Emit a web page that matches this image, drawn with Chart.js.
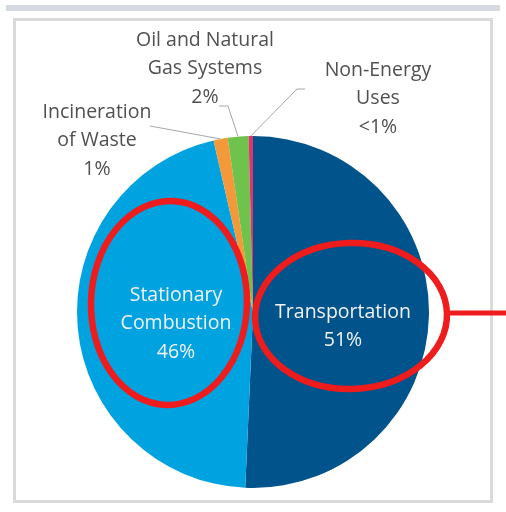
<!DOCTYPE html>
<html>
<head>
<meta charset="utf-8">
<script src="https://cdn.jsdelivr.net/npm/chart.js@4.4.1/dist/chart.umd.min.js"></script>
<style>
html, body { margin: 0; padding: 0; background: #fff; }
#wrap { position: relative; width: 506px; height: 512px; }
#topbar { position: absolute; left: 6px; top: 5px; width: 494px; height: 6px; background: #d6dbe1; }
#frame { position: absolute; left: 13px; top: 18px; width: 474px; height: 479px; border: 3px solid #dadada; }
canvas { position: absolute; left: 0; top: 0; }
</style>
</head>
<body>
<div id="wrap">
  <div id="topbar"></div>
  <div id="frame"></div>
  <canvas id="c" width="506" height="512"></canvas>
</div>
<script>
// slices, clockwise from 12 o'clock
var categories = ["Transportation", "Stationary Combustion", "Incineration of Waste", "Oil and Natural Gas Systems", "Non-Energy Uses"];
var shares = [50.7, 45.7, 1.3, 1.9, 0.4];
var shareLabels = ["51%", "46%", "1%", "2%", "<1%"];
var labelLines = [
    ["Transportation"],
    ["Stationary", "Combustion"],
    ["Incineration", "of Waste"],
    ["Oil and Natural", "Gas Systems"],
    ["Non-Energy", "Uses"]
];
var colors = ["#00538b", "#00a3df", "#f3993a", "#6fc24b", "#e0336f"];

var FONT = "19.5px 'Open Sans'";

// text placement (center x, first line y) and leader line start points
var textPos = [
    { x: 343, y: 312, color: "#f2f2f2" },
    { x: 176, y: 295, color: "#f2f2f2" },
    { x: 97, y: 112, color: "#505050", lead: [[150, 126]] },
    { x: 205, y: 40, color: "#505050", lead: [[219, 106], [228, 106]] },
    { x: 378, y: 70, color: "#505050", lead: [[305, 89], [297, 89]] }
];

var labelPlugin = {
    id: "sliceLabels",
    afterDatasetsDraw: function (chart) {
        var ctx = chart.ctx;
        var arcs = chart.getDatasetMeta(0).data;
        ctx.save();
        ctx.font = FONT;
        ctx.textAlign = "center";
        ctx.textBaseline = "middle";
        categories.forEach(function (c, i) {
            var p = textPos[i];
            var lines = labelLines[i].concat([shareLabels[i]]);
            ctx.fillStyle = p.color;
            lines.forEach(function (t, k) {
                ctx.fillText(t, p.x, p.y + k * 28.5);
            });
            if (p.lead) {
                var a = arcs[i];
                var mid = (a.startAngle + a.endAngle) / 2;
                var ex = a.x + Math.cos(mid) * a.outerRadius;
                var ey = a.y + Math.sin(mid) * a.outerRadius;
                ctx.strokeStyle = "#a6a6a6";
                ctx.lineWidth = 1;
                ctx.beginPath();
                ctx.moveTo(p.lead[0][0], p.lead[0][1]);
                for (var k = 1; k < p.lead.length; k++) ctx.lineTo(p.lead[k][0], p.lead[k][1]);
                ctx.lineTo(ex, ey);
                ctx.stroke();
            }
        });
        ctx.restore();
    },
    afterDraw: function (chart) {
        // red hand-drawn highlight marks
        var ctx = chart.ctx;
        ctx.save();
        ctx.strokeStyle = "#ee1c1c";
        ctx.lineWidth = 6.5;
        ctx.beginPath();
        ctx.ellipse(169, 303, 78, 102, 0.03, 0, Math.PI * 2);
        ctx.stroke();
        ctx.beginPath();
        ctx.ellipse(351, 316, 96, 73, -0.03, 0, Math.PI * 2);
        ctx.stroke();
        ctx.lineWidth = 5;
        ctx.beginPath();
        ctx.moveTo(446, 313);
        ctx.lineTo(506, 313);
        ctx.stroke();
        ctx.restore();
    }
};

new Chart(document.getElementById("c"), {
    type: "pie",
    data: {
        labels: categories,
        datasets: [{
            data: shares,
            backgroundColor: colors,
            borderWidth: 0
        }]
    },
    options: {
        responsive: false,
        animation: false,
        layout: { padding: { left: 77, right: 77, top: 136, bottom: 24 } },
        plugins: {
            legend: { display: false },
            tooltip: { enabled: false }
        }
    },
    plugins: [labelPlugin]
});
</script>
</body>
</html>
